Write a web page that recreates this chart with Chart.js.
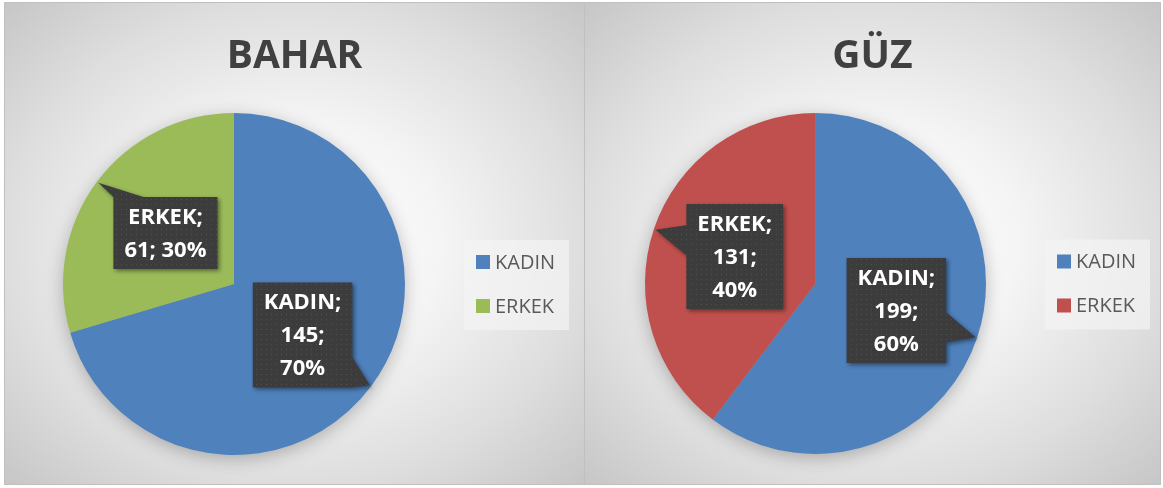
<!DOCTYPE html>
<html>
<head>
<meta charset="utf-8">
<script src="https://cdn.jsdelivr.net/npm/chart.js@4/dist/chart.umd.min.js"></script>
<style>
  body { margin: 0; background: #ffffff; }
  .panel {
    position: absolute;
    top: 2px;
    height: 483px;
    background: radial-gradient(ellipse farthest-corner at 50% 50%, #ffffff 0%, #f5f5f5 35%, #dedede 70%, #c6c6c6 100%);
    box-shadow: inset 0 0 0 1px #c0c0c0;
  }
  .panel canvas { position: absolute; left: 0; top: 0; }
</style>
</head>
<body>
<div class="panel" style="left:4px; width:581px;"><canvas id="bahar" width="581" height="483"></canvas></div>
<div class="panel" style="left:584px; width:577px;"><canvas id="guz" width="577" height="483"></canvas></div>
<script>
// Veriler
var kategoriler = ["KADIN", "ERKEK"];
var baharDegerleri = [145, 61];
var guzDegerleri = [199, 131];
var basliklar = ["BAHAR", "GÜZ"];

var mavi = "#4F81BD";
var yesil = "#9BBB59";
var kirmizi = "#C0504D";

// Etiket kutusu için noktalı desen
function desenYap(ctx) {
  var c = document.createElement("canvas");
  c.width = 5; c.height = 5;
  var g = c.getContext("2d");
  g.fillStyle = "#3c3c3c";
  g.fillRect(0, 0, 5, 5);
  g.fillStyle = "#4e4e4e";
  g.fillRect(2, 2, 1, 1);
  return ctx.createPattern(c, "repeat");
}

function satirlaraBol(ctx, metin, maxGenislik) {
  var kelimeler = metin.split(" ");
  var satirlar = [];
  var satir = "";
  kelimeler.forEach(function(k) {
    var deneme = satir ? satir + " " + k : k;
    if (satir && ctx.measureText(deneme).width > maxGenislik) {
      satirlar.push(satir);
      satir = k;
    } else {
      satir = deneme;
    }
  });
  if (satir) satirlar.push(satir);
  return satirlar;
}

var excelEklentisi = {
  id: "excelGorunum",
  beforeDatasetsDraw: function(chart) {
    // pastanın altındaki yumuşak gölge
    var arc = chart.getDatasetMeta(0).data[0];
    var ctx = chart.ctx;
    ctx.save();
    ctx.shadowColor = "rgba(0,0,0,0.28)";
    ctx.shadowBlur = 18;
    ctx.shadowOffsetY = 4;
    ctx.fillStyle = "#999";
    ctx.beginPath();
    ctx.arc(arc.x, arc.y, arc.outerRadius - 1, 0, Math.PI * 2);
    ctx.fill();
    ctx.restore();
  },
  afterDatasetsDraw: function(chart) {
    var ctx = chart.ctx;
    var ds = chart.data.datasets[0];
    var toplam = ds.data.reduce(function(a, b) { return a + b; }, 0);
    var desen = desenYap(ctx);
    chart.getDatasetMeta(0).data.forEach(function(arc, i) {
      var p = arc.getProps(["x", "y", "startAngle", "endAngle", "outerRadius"], true);
      var orta = (p.startAngle + p.endAngle) / 2;
      var cx = p.x + Math.cos(orta) * p.outerRadius * 0.5;
      var cy = p.y + Math.sin(orta) * p.outerRadius * 0.5;
      var ucX = p.x + Math.cos(orta) * p.outerRadius * 0.99;
      var ucY = p.y + Math.sin(orta) * p.outerRadius * 0.99;

      var yuzde = Math.round(ds.data[i] / toplam * 100);
      var metin = chart.data.labels[i] + "; " + ds.data[i] + "; " + yuzde + "%";
      ctx.font = 'bold 22px "Open Sans"';
      var satirlar = satirlaraBol(ctx, metin, 88);
      var enGenis = 0;
      satirlar.forEach(function(s) { enGenis = Math.max(enGenis, ctx.measureText(s).width); });
      var w = enGenis + 22;
      var h = satirlar.length * 33 + 6;
      var L = cx - w / 2, T = cy - h / 2, R = cx + w / 2, B = cy + h / 2;

      var dx = ucX - cx, dy = ucY - cy;
      var tx = (w / 2) / Math.abs(dx), ty = (h / 2) / Math.abs(dy);
      var kenar, ex, ey;
      if (tx < ty) { kenar = dx > 0 ? "sag" : "sol"; ex = dx > 0 ? R : L; ey = cy + dy * tx; }
      else { kenar = dy > 0 ? "alt" : "ust"; ey = dy > 0 ? B : T; ex = cx + dx * ty; }
      var hw = 15;
      function sinirla(v, a, b) { return Math.max(a, Math.min(b, v)); }

      ctx.save();
      ctx.beginPath();
      ctx.moveTo(L, T);
      if (kenar === "ust") { var a = sinirla(ex - hw, L, R - 2 * hw); ctx.lineTo(a, T); ctx.lineTo(ucX, ucY); ctx.lineTo(a + 2 * hw, T); }
      ctx.lineTo(R, T);
      if (kenar === "sag") { var b = sinirla(ey - hw, T, B - 2 * hw); ctx.lineTo(R, b); ctx.lineTo(ucX, ucY); ctx.lineTo(R, b + 2 * hw); }
      ctx.lineTo(R, B);
      if (kenar === "alt") { var c = sinirla(ex + hw, L + 2 * hw, R); ctx.lineTo(c, B); ctx.lineTo(ucX, ucY); ctx.lineTo(c - 2 * hw, B); }
      ctx.lineTo(L, B);
      if (kenar === "sol") { var d = sinirla(ey + hw, T + 2 * hw, B); ctx.lineTo(L, d); ctx.lineTo(ucX, ucY); ctx.lineTo(L, d - 2 * hw); }
      ctx.closePath();
      ctx.shadowColor = "rgba(0,0,0,0.45)";
      ctx.shadowBlur = 4;
      ctx.shadowOffsetX = 2;
      ctx.shadowOffsetY = 2;
      ctx.fillStyle = desen;
      ctx.fill();
      ctx.restore();

      ctx.save();
      ctx.fillStyle = "#ffffff";
      ctx.textAlign = "center";
      ctx.textBaseline = "middle";
      ctx.font = 'bold 22px "Open Sans"';
      satirlar.forEach(function(s, k) {
        ctx.fillText(s, cx, T + 3 + 33 * (k + 0.5) + 1);
      });
      ctx.restore();
    });
  },
  afterDraw: function(chart) {
    var ctx = chart.ctx;
    var ca = chart.chartArea;
    // başlık
    ctx.save();
    ctx.font = 'bold 39px "Open Sans"';
    ctx.fillStyle = "#404040";
    ctx.textAlign = "center";
    ctx.textBaseline = "alphabetic";
    ctx.fillText(chart.options.plugins.baslik, chart.width / 2, 66);
    ctx.restore();

    // gösterge
    var ds = chart.data.datasets[0];
    var orta = (ca.top + ca.bottom) / 2;
    var lx = ca.right + 59;
    ctx.save();
    ctx.fillStyle = "rgba(244,244,244,0.7)";
    ctx.fillRect(lx, orta - 44, 105, 90);
    ctx.font = '20px "Open Sans"';
    ctx.textBaseline = "middle";
    chart.data.labels.forEach(function(lab, i) {
      var y = orta - 29 + i * 44;
      ctx.fillStyle = ds.backgroundColor[i];
      ctx.fillRect(lx + 12, y, 14, 14);
      ctx.fillStyle = "#595959";
      ctx.fillText(lab, lx + 31, y + 8);
    });
    ctx.restore();
  }
};

function pastaCiz(id, baslik, degerler, renkler, dolgu) {
  return new Chart(id, {
    type: "pie",
    data: {
      labels: kategoriler,
      datasets: [{
        data: degerler,
        backgroundColor: renkler,
        borderWidth: 0,
        offset: 0,
        hoverOffset: 0
      }]
    },
    options: {
      responsive: false,
      animation: false,
      layout: { padding: dolgu },
      plugins: {
        legend: { display: false },
        tooltip: { enabled: false },
        baslik: baslik
      }
    },
    plugins: [excelEklentisi]
  });
}

Promise.all([
  document.fonts.load('bold 22px "Open Sans"'),
  document.fonts.load('bold 39px "Open Sans"'),
  document.fonts.load('20px "Open Sans"')
]).catch(function() {}).then(function() {
  pastaCiz("bahar", basliklar[0], baharDegerleri, [mavi, yesil], { left: 59, top: 111, right: 180, bottom: 30 });
  pastaCiz("guz", basliklar[1], guzDegerleri, [mavi, kirmizi], { left: 61, top: 111, right: 175, bottom: 31 });
});
</script>
</body>
</html>
